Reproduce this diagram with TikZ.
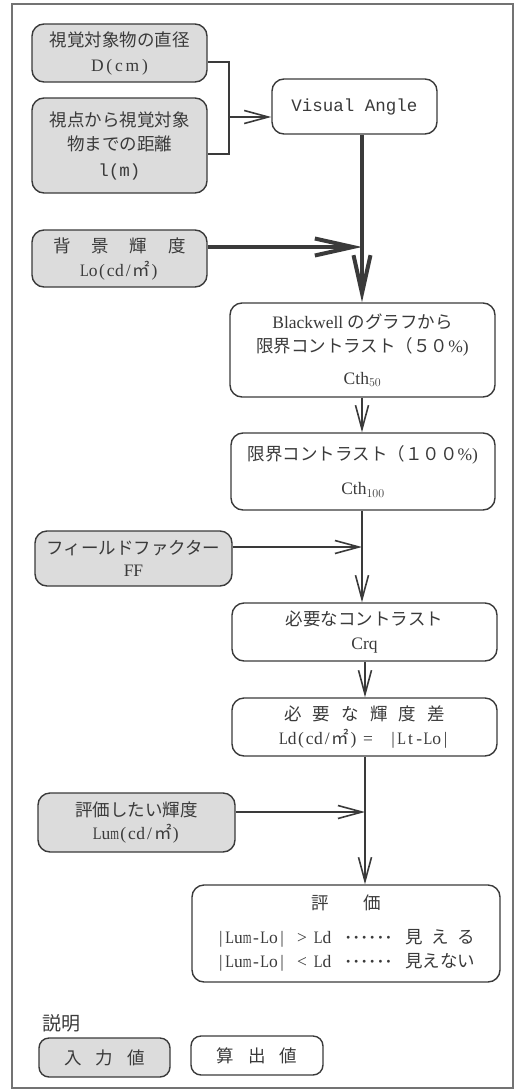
\documentclass[tikz,border=0pt]{standalone}
\usepackage{fontspec}
\setmainfont{Liberation Serif}
\setmonofont{Liberation Mono}
\newfontfamily\jp{Noto Sans CJK JP}
\newfontfamily\wideserif[LetterSpace=16]{Liberation Serif}
\usetikzlibrary{arrows.meta}
\definecolor{ink}{HTML}{3A3A3A}
\definecolor{infill}{HTML}{DCDCDC}
% half-width (0.5em) fixed-pitch setting of Latin strings
\makeatletter
\newcommand\hw[1]{\hw@#1\relax}
\def\hw@#1{\ifx#1\relax\else\hwchar{#1}\expandafter\hw@\fi}
\newcommand\hwchar[1]{\sbox0{#1}\makebox[0.5em]{\ifdim\wd0>0.5em\relax\resizebox{0.5em}{\ht0}{#1}\else#1\fi}}
\makeatother
\newcommand\sixdots{\makebox[46pt][s]{\textbf{·}\hfill\textbf{·}\hfill\textbf{·}\hfill\textbf{·}\hfill\textbf{·}\hfill\textbf{·}}}
\tikzset{
  box/.style={draw=ink, line width=1.4pt, rounded corners=12pt, inner sep=0pt, align=center,
    text=ink, font=\fontsize{17.5}{24}\selectfont},
  inbox/.style={box, fill=infill},
  conn/.style={draw=ink, line width=1.6pt},
  arr/.style={conn, -{Straight Barb[length=24pt,width=13pt]}},
  bigarr/.style={draw=ink, line width=4pt, -{Straight Barb[length=38pt,width=17pt]}},
  frame/.style={draw=black!55, line width=1.5pt}
}
\begin{document}
\begin{tikzpicture}[x=1pt,y=-1pt]
\useasboundingbox (0,0) rectangle (521,1090);
\node[frame, minimum width=501pt, minimum height=1084pt, inner sep=0pt] (frm) at (262.5,546) {};

% input boxes
\node[inbox, minimum width=175pt, minimum height=58pt] (in1) at (119.5,53)
  {{\jp 視覚対象物の直径}\\[1pt]{\wideserif D(cm)}};
\node[inbox, minimum width=175pt, minimum height=95pt] (in2) at (119.5,145.5)
  {{\jp 視点から視覚対象}\\{\jp 物までの距離}\\[2pt]\texttt{l(m)}};
\node[inbox, minimum width=175pt, minimum height=57pt] (in3) at (119.5,258.5)
  {{\jp 背\hspace{1.2em}景\hspace{1.2em}輝\hspace{1.2em}度}\\\hw{Lo(cd/}{\jp ㎡}\hw{)}};
\node[inbox, minimum width=197pt, minimum height=55pt] (ff) at (133.5,558.5)
  {{\jp フィールドファクター}\\[-2pt]FF};
\node[inbox, minimum width=197pt, minimum height=59pt] (in4) at (136.5,822.5)
  {{\jp 評価したい輝度}\\[-1pt]\hw{Lum(cd/}{\jp ㎡}\hw{)}};

% computed boxes
\node[box, minimum width=165pt, minimum height=55pt] (va) at (354.5,106.5)
  {\texttt{Visual Angle}};
\node[box, minimum width=265pt, minimum height=94pt] (bw) at (362.5,350)
  {Blackwell {\jp のグラフから}\\{\jp 限界コントラスト（５０}\%)\\[8pt]Cth$_{50}$};
\node[box, minimum width=264pt, minimum height=77pt] (c100) at (363,471.5)
  {{\jp 限界コントラスト（１００}\%)\\[10pt]Cth$_{100}$};
\node[box, minimum width=265pt, minimum height=58pt] (crq) at (364.5,632)
  {{\jp 必要なコントラスト}\\Crq};
\node[box, minimum width=265pt, minimum height=58pt] (ld) at (364.5,727)
  {{\jp 必\hspace{0.64em}要\hspace{0.64em}な\hspace{0.64em}輝\hspace{0.64em}度\hspace{0.64em}差}\\\hw{Ld(cd/}{\jp ㎡}\hw{)}\hspace{0.3em}=\hspace{0.9em}\hw{|Lt-Lo|}};
\node[box, minimum width=308pt, minimum height=97pt] (ev) at (346,933.5)
  {{\jp 評\hspace{2em}価}\\[10pt]
   \hw{|Lum-Lo|}\hspace{0.6em}>\hspace{0.4em}\hw{Ld}\hspace{0.8em}\sixdots\hspace{0.8em}{\jp 見\hspace{0.5em}え\hspace{0.5em}る}\\
   \hw{|Lum-Lo|}\hspace{0.6em}<\hspace{0.4em}\hw{Ld}\hspace{0.8em}\sixdots\hspace{0.8em}{\jp 見えない}};

% legend
\node[anchor=west, text=ink, inner sep=0pt, font=\fontsize{19}{22}\selectfont\jp] (lg) at (42,1023) {説明};
\node[inbox, minimum width=131pt, minimum height=39pt, rounded corners=10pt] (lin) at (104.5,1057.5)
  {{\jp 入\hspace{0.8em}力\hspace{0.8em}値}};
\node[box, minimum width=132pt, minimum height=39pt, rounded corners=10pt] (lout) at (257,1055.5)
  {{\jp 算\hspace{0.8em}出\hspace{0.8em}値}};

% connectors
\coordinate (b1) at (229,62);
\coordinate (b2) at (229,154);
\coordinate (bm) at (229,117);
\draw[conn] (in1.east |- b1) -- (b1) -- (b2) -- (in2.east |- b2);
\draw[arr] (bm) -- (va.west |- bm);

\coordinate (s0) at (362,0);
\coordinate (j1) at (362,247);
\draw[bigarr] (va.south -| s0) -- (bw.north -| s0);
\draw[bigarr] (in3.east |- j1) -- (j1);
\draw[arr] (bw.south -| s0) -- (c100.north -| s0);
\coordinate (j2) at (362,547);
\draw[arr] (c100.south -| s0) -- (crq.north -| s0);
\draw[arr] (ff.east |- j2) -- (j2);
\coordinate (s1) at (365,0);
\draw[arr] (crq.south -| s1) -- (ld.north -| s1);
\coordinate (j3) at (365,812);
\draw[arr] (ld.south -| s1) -- (ev.north -| s1);
\draw[arr] (in4.east |- j3) -- (j3);
\end{tikzpicture}
\end{document}
